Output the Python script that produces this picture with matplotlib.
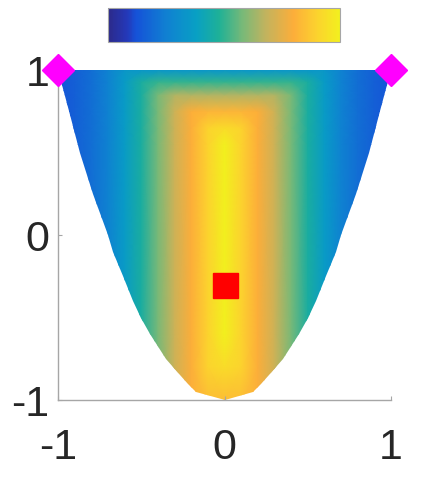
import numpy as np
import matplotlib
matplotlib.use('Agg')
import matplotlib.pyplot as plt
from matplotlib.colors import LinearSegmentedColormap
from matplotlib.patches import Polygon

plt.rcParams['font.family'] = ['Liberation Sans', 'DejaVu Sans']
plt.rcParams['axes.unicode_minus'] = False

# parula-like colour ramp
PARULA = [
    (0.00, '#2c2a8a'),
    (0.08, '#2438b8'),
    (0.12, '#1552d8'),
    (0.25, '#1080d2'),
    (0.38, '#08a0c4'),
    (0.48, '#1fb196'),
    (0.58, '#78b978'),
    (0.68, '#c2b35e'),
    (0.80, '#fcae3a'),
    (0.90, '#fcd22e'),
    (1.00, '#f2f01e'),
]

# level across x (mirrored)
x_knots = [0.0, 0.1, 0.2, 0.3, 0.4, 0.5, 0.6, 0.7, 0.8, 0.9, 1.0]
x_level = [1.0, 0.9, 0.8, 0.7, 0.58, 0.46, 0.36, 0.26, 0.2, 0.16, 0.13]

# level along y (darker near the top and slightly near the tip)
y_knots = [-1.0, -0.8, -0.6, 0.55, 0.65, 0.75, 0.85, 0.93, 1.0]
y_level = [0.84, 0.93, 1.0, 1.0, 0.93, 0.82, 0.66, 0.5, 0.34]

# half width of the region at several heights
edge_y = [-1.0, -0.95, -0.9, -0.85, -0.75, -0.6, -0.5, -0.4, -0.25, -0.1,
          0.0, 0.25, 0.5, 0.75, 1.0]
edge_w = [0.0, 0.17, 0.22, 0.27, 0.35, 0.45, 0.5, 0.55, 0.61, 0.67,
          0.70, 0.79, 0.87, 0.935, 1.0]

# markers
corner_x = [-1, 1]
corner_y = [1, 1]
point_x = [0]
point_y = [-0.3]

cmap = LinearSegmentedColormap.from_list('parula', PARULA)

xs = np.array([-v for v in x_knots[:0:-1]] + x_knots)
xl = np.array(x_level[:0:-1] + x_level)
X, Y = np.meshgrid(xs, y_knots)
C = np.minimum(xl[None, :], np.array(y_level)[:, None])

fig = plt.figure(figsize=(4.26, 4.78), dpi=100)
ax = fig.add_axes([0.136, 0.163, 0.782, 0.690])

mesh = ax.pcolormesh(X, Y, C, shading='gouraud', cmap=cmap, vmin=0, vmax=1)
outline = list(zip(edge_w, edge_y)) + list(zip([-w for w in edge_w[::-1]], edge_y[::-1]))
clip = Polygon(outline, closed=True, transform=ax.transData, facecolor='none', edgecolor='none')
ax.add_patch(clip)
mesh.set_clip_path(clip)

ax.plot(corner_x, corner_y, 'D', color='#ff00ff', markersize=16, clip_on=False, zorder=5)
ax.plot(point_x, point_y, 's', color='#ff0000', markersize=18, zorder=5)

ax.set_xlim(-1, 1)
ax.set_ylim(-1, 1)
ax.set_xticks([-1, 0, 1])
ax.set_yticks([-1, 0, 1])
for s in ['top', 'right']:
    ax.spines[s].set_visible(False)
for s in ['left', 'bottom']:
    ax.spines[s].set_color('#a6a6a6')
    ax.spines[s].set_linewidth(1.0)
ax.tick_params(direction='in', length=3, color='#a6a6a6', labelsize=31, labelcolor='#262626')
ax.tick_params(axis='x', pad=20)
ax.tick_params(axis='y', pad=6)

cax = fig.add_axes([0.2535, 0.912, 0.545, 0.071])
cb = fig.colorbar(mesh, cax=cax, orientation='horizontal')
cb.set_ticks([])
cb.outline.set_edgecolor('#a6a6a6')
cb.outline.set_linewidth(0.8)

fig.savefig('out.png', dpi=100)
